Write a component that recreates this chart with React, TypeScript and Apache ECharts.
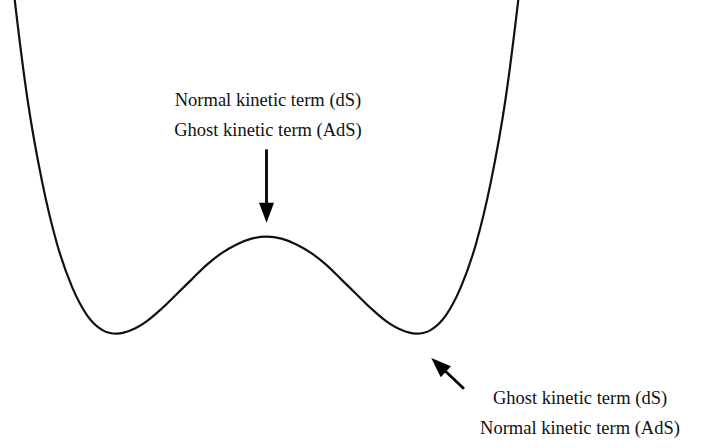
import React, { useEffect, useRef } from "react";
import * as echarts from "echarts";

// Positions along the field axis (symmetric double well)
const fieldValues = [
  -1.7, -1.6, -1.5, -1.4, -1.3, -1.2, -1.1, -1.0, -0.9, -0.8, -0.7, -0.6, -0.5, -0.4, -0.3, -0.2, -0.1,
  0,
  0.1, 0.2, 0.3, 0.4, 0.5, 0.6, 0.7, 0.8, 0.9, 1.0, 1.1, 1.2, 1.3, 1.4, 1.5, 1.6, 1.7,
];
// Potential height (minima = 0, central hump = 1)
const potentialValues = [
  3.65, 2.43, 1.56, 0.92, 0.48, 0.19, 0.04, 0, 0.04, 0.13, 0.26, 0.41, 0.56, 0.71, 0.83, 0.92, 0.98,
  1,
  0.98, 0.92, 0.83, 0.71, 0.56, 0.41, 0.26, 0.13, 0.04, 0, 0.04, 0.19, 0.48, 0.92, 1.56, 2.43, 3.65,
];

// Annotation arrows (data coordinates): [tail, head centre]
const topArrow = [[0, 1.9], [0, 1.247]];
const bottomArrow = [[1.321, -0.567], [1.151, -0.321]];

const topLabel = ["Normal kinetic term (dS)", "Ghost kinetic term (AdS)"];
const bottomLabel = ["Ghost kinetic term (dS)", "Normal kinetic term (AdS)"];

export default function App() {
  const ref = useRef<HTMLDivElement>(null);
  useEffect(() => {
    if (!ref.current) return;
    const chart = echarts.init(ref.current, undefined, { renderer: "svg" });
    const textStyle = (t: string, x: number, y: number) => ({
      type: "text",
      x,
      y,
      silent: true,
      style: {
        text: t,
        fill: "#111",
        fontFamily: "Liberation Serif",
        fontSize: 18.5,
        textAlign: "center",
        textVerticalAlign: "middle",
      },
    });
    chart.setOption({
      animation: false,
      backgroundColor: "#ffffff",
      grid: { left: 12.35, width: 508.3, top: 0, height: 430.7 },
      xAxis: { type: "value", min: -1.7, max: 1.7, show: false },
      yAxis: { type: "value", min: -1, max: 3.44, show: false },
      series: [
        {
          type: "line",
          data: fieldValues.map((x, i) => [x, potentialValues[i]]),
          smooth: 0.35,
          showSymbol: false,
          symbol: "none",
          lineStyle: { color: "#111", width: 2.2 },
          silent: true,
          markLine: {
            silent: true,
            symbol: ["none", "triangle"],
            symbolSize: [15, 20],
            label: { show: false },
            lineStyle: { color: "#000", width: 2.8, type: "solid" },
            emphasis: { disabled: true },
            data: [
              [{ coord: topArrow[0] }, { coord: topArrow[1] }],
              [{ coord: bottomArrow[0] }, { coord: bottomArrow[1] }],
            ],
          },
        },
      ],
      graphic: [
        textStyle(topLabel[0], 268, 100),
        textStyle(topLabel[1], 268, 130),
        textStyle(bottomLabel[0], 580, 398),
        textStyle(bottomLabel[1], 580, 428),
      ],
    });
    return () => chart.dispose();
  }, []);
  return (
    <div
      ref={ref}
      style={{ position: "fixed", left: 0, top: 0, width: 717, height: 448, background: "#fff" }}
    />
  );
}
